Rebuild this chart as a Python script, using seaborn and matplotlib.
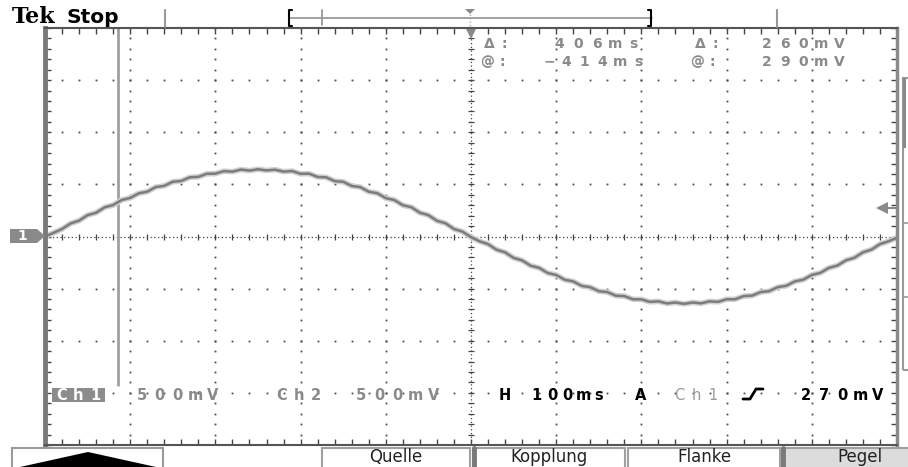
import numpy as np
import pandas as pd
import matplotlib
matplotlib.use("Agg")
import matplotlib.pyplot as plt
import seaborn as sns
from matplotlib.patches import Polygon, Rectangle
from matplotlib.lines import Line2D

# ---------------- data (read from the screen) ----------------
# time axis: 100 ms/div, 10 divisions, trigger at centre; one sample every 10 ms
time_s = np.linspace(-0.5, 0.5, 101)
# channel 1 voltage (V), 500 mV/div
ch1_volts = [
    0.000, 0.035, 0.072, 0.125, 0.152, 0.205, 0.228, 0.280, 0.302, 0.350,
    0.370, 0.414, 0.430, 0.474, 0.486, 0.525, 0.533, 0.568, 0.572, 0.602,
    0.603, 0.627, 0.622, 0.642, 0.632, 0.645,
    0.634, 0.641, 0.622, 0.628, 0.601, 0.603, 0.571, 0.568, 0.531, 0.525,
    0.485, 0.474, 0.430, 0.415, 0.368, 0.350, 0.300, 0.281, 0.228, 0.205,
    0.151, 0.127, 0.072, 0.047, -0.006,
    -0.046, -0.073, -0.127, -0.152, -0.205, -0.229, -0.280, -0.301, -0.350,
    -0.369, -0.415, -0.431, -0.474, -0.486, -0.525, -0.533, -0.568, -0.572,
    -0.602, -0.603, -0.627, -0.622, -0.642, -0.633, -0.646,
    -0.633, -0.641, -0.622, -0.627, -0.602, -0.602, -0.572, -0.567, -0.533,
    -0.524, -0.486, -0.473, -0.431, -0.414, -0.369, -0.349, -0.301, -0.279,
    -0.229, -0.204, -0.152, -0.126, -0.073, -0.046, -0.012,
]
cursor_time = -0.414          # time cursor (s)
trigger_level = 0.270         # V
readout_row1 = ["\u0394:", "406ms", "\u0394:", "260mV"]
readout_row2 = ["@:", "\u2212414ms", "@:", "290mV"]
status_left = ["Ch1", "500mV", "Ch2", "500mV"]
status_right = ["H 100ms", "A", "Ch1", "270mV"]
buttons = ["Quelle", "Kopplung", "Flanke", "Pegel"]

df = pd.DataFrame({"t": time_s, "v": ch1_volts})

# ---------------- figure ----------------
sns.set_style("white")
plt.rcParams["font.family"] = ["DejaVu Sans"]
W, H = 908, 467
fig = plt.figure(figsize=(W / 100, H / 100), dpi=100)
fig.patch.set_facecolor("white")


def fx(x):
    return x / W


def fy(y):
    return 1 - y / H


def fline(xs, ys, **kw):
    fig.add_artist(Line2D([fx(x) for x in xs], [fy(y) for y in ys],
                          transform=fig.transFigure, **kw))


def fpoly(pts, **kw):
    fig.add_artist(Polygon([(fx(x), fy(y)) for x, y in pts], closed=True,
                           transform=fig.transFigure, **kw))


def frect(x0, y0, x1, y1, **kw):
    fig.add_artist(Rectangle((fx(x0), fy(y1)), (x1 - x0) / W, (y1 - y0) / H,
                             transform=fig.transFigure, **kw))


def tek(x0, yb, s, pitch, size=10.5, color="#8a8a8a", weight="bold"):
    for i, ch in enumerate(s):
        if ch == " ":
            continue
        fig.text(fx(x0 + (i + 0.5) * pitch), fy(yb), ch, ha="center",
                 va="baseline", fontsize=size, color=color, fontweight=weight)


ax = fig.add_axes([45 / W, (H - 445) / H, 852 / W, 417 / H])
ax.set_xlim(-0.5, 0.5)
ax.set_ylim(-2.0, 2.0)

# graticule dots
dot_kw = dict(ls="none", marker="s", ms=1.3, color="#4a4a4a", mew=0)
ys_fine = np.round(np.arange(-2.0, 2.0001, 0.1), 3)
xs_fine = np.round(np.arange(-0.5, 0.5001, 0.02), 3)
for gx in np.round(np.arange(-0.4, 0.4001, 0.1), 3):
    if abs(gx) > 1e-9:
        ax.plot(np.full_like(ys_fine, gx), ys_fine, **dot_kw)
for gy in np.round(np.arange(-1.5, 1.5001, 0.5), 3):
    if abs(gy) > 1e-9:
        ax.plot(xs_fine, np.full_like(xs_fine, gy), **dot_kw)

# centre lines with tick marks
ax.axhline(0, ls=(0, (1, 2)), lw=0.9, color="#444444")
ax.axvline(0, ls=(0, (1, 2)), lw=0.9, color="#444444")
ax.plot(xs_fine, np.zeros_like(xs_fine), ls="none", marker="|", ms=5,
        mew=0.9, color="#444444")
ax.plot(np.zeros_like(ys_fine), ys_fine, ls="none", marker="_", ms=5,
        mew=0.9, color="#444444")

# cursor line
ax.plot([cursor_time, cursor_time], [-1.43, 2.0], color="#a0a0a0", lw=2,
        solid_capstyle="butt")

# trace: halo + core
sns.lineplot(data=df, x="t", y="v", ax=ax, color="#d0d0d0", lw=4.0)
sns.lineplot(data=df, x="t", y="v", ax=ax, color="#7c7c7c", lw=1.8)

# trigger position marker and trigger level arrow
ax.plot([0], [1.955], marker="v", ms=8, color="#8a8a8a", mew=0, clip_on=False)
ax.plot([0.487, 0.5], [trigger_level, trigger_level], color="#8a8a8a", lw=1.5)
ax.plot([0.482], [trigger_level], marker="<", ms=9, color="#8a8a8a", mew=0)

ax.set_xlabel("")
ax.set_ylabel("")
ax.set_xticks([])
ax.set_yticks([])
ax.set_xticks(xs_fine, minor=True)
ax.set_yticks(ys_fine, minor=True)
ax.tick_params(which="minor", direction="in", length=4, width=1,
               color="#444444", top=True, right=True, bottom=True, left=True,
               labelbottom=False, labelleft=False)
for side, sp in ax.spines.items():
    sp.set_visible(True)
    sp.set_color("#555555")
    sp.set_linewidth(1.5)
ax.spines["left"].set_linewidth(3.5)
ax.spines["left"].set_color("#7a7a7a")
ax.spines["right"].set_linewidth(2.5)
ax.spines["right"].set_color("#8a8a8a")

# ---------------- top bar ----------------
fig.text(fx(12), fy(23), "Tek", family="DejaVu Serif", fontweight="bold",
         fontsize=16, color="black", va="baseline")
fig.text(fx(66), fy(23), "Stop", fontweight="bold", fontsize=14.5,
         color="black", va="baseline")
fline([165, 165], [10, 27], color="#999999", lw=1.5)
fline([777, 777], [10, 27], color="#999999", lw=1.5)
fline([290, 652], [18, 18], color="#9a9a9a", lw=1.3)
fline([292, 289, 289, 292], [10, 10, 26, 26], color="black", lw=1.5)
fline([648, 651, 651, 648], [10, 10, 26, 26], color="black", lw=1.5)
fline([322, 322], [10, 25], color="#999999", lw=1.3)
fpoly([(465, 9), (475, 9), (470, 14)], color="#8a8a8a", lw=0)
fline([470, 470], [14, 27], color="#aaaaaa", lw=1, ls=(0, (1, 1.5)))

# ---------------- readouts ----------------
tek(482, 48.5, readout_row1[0], 15, size=10)
tek(550, 48.5, readout_row1[1], 18.6, size=10)
tek(693, 48.5, readout_row1[2], 15, size=10)
tek(758, 48.5, readout_row1[3], 18, size=10)
tek(480, 65.5, readout_row2[0], 15, size=10)
tek(540, 65.5, readout_row2[1], 17.8, size=10)
tek(690, 65.5, readout_row2[2], 15, size=10)
tek(758, 65.5, readout_row2[3], 18, size=10)

frect(52, 388, 105, 402, facecolor="#8c8c8c", edgecolor="none")
tek(53, 400, status_left[0], 17, color="white")
tek(133, 400, status_left[1], 17.8)
tek(273, 400, status_left[2], 17.3)
tek(352, 400, status_left[3], 18.2)
tek(497, 400, status_right[0], 15.7, color="black")
tek(632, 400, status_right[1], 18, color="black")
tek(671, 400, status_right[2], 16.7, color="#9a9a9a", weight="normal")
fline([743, 750, 756, 763], [399, 399, 389, 389], color="black", lw=2)
tek(797, 400, status_right[3], 18, color="black")

# channel ground marker
fpoly([(10, 229), (37, 229), (45, 236), (37, 243), (10, 243)],
      color="#8a8a8a", lw=0)
fig.text(fx(22), fy(236), "1", color="white", fontweight="bold", fontsize=10,
         ha="center", va="center")

# right side menu frame
frect(903, 78, 911, 370, facecolor="none", edgecolor="#9a9a9a", lw=1.5)
frect(903, 78, 906, 148, facecolor="#8a8a8a", edgecolor="none")
fline([903, 911], [223, 223], color="#9a9a9a", lw=1.2)
fline([903, 911], [297, 297], color="#9a9a9a", lw=1.2)

# ---------------- bottom buttons ----------------
frect(12, 448, 163, 470, facecolor="white", edgecolor="#9a9a9a", lw=1.5)
fpoly([(20, 467), (88, 452), (156, 467)], color="black", lw=0)
btn_x = [(322, 470), (473, 625), (628, 780), (782, 912)]
btn_fill = ["white", "white", "white", "#dcdcdc"]
btn_cx = [396, 549, 704, 860]
for (x0, x1), lab, fc, cx in zip(btn_x, buttons, btn_fill, btn_cx):
    frect(x0, 448, x1, 472, facecolor=fc, edgecolor="#a0a0a0", lw=1.5)
    fig.text(fx(cx), fy(462), lab, ha="center", va="baseline",
             fontsize=12, color="#222222")
fline([474, 474], [448, 467], color="#7a7a7a", lw=3.5)
fline([783, 783], [448, 467], color="#7a7a7a", lw=3.5)

fig.savefig("out.png", dpi=100, facecolor="white")
